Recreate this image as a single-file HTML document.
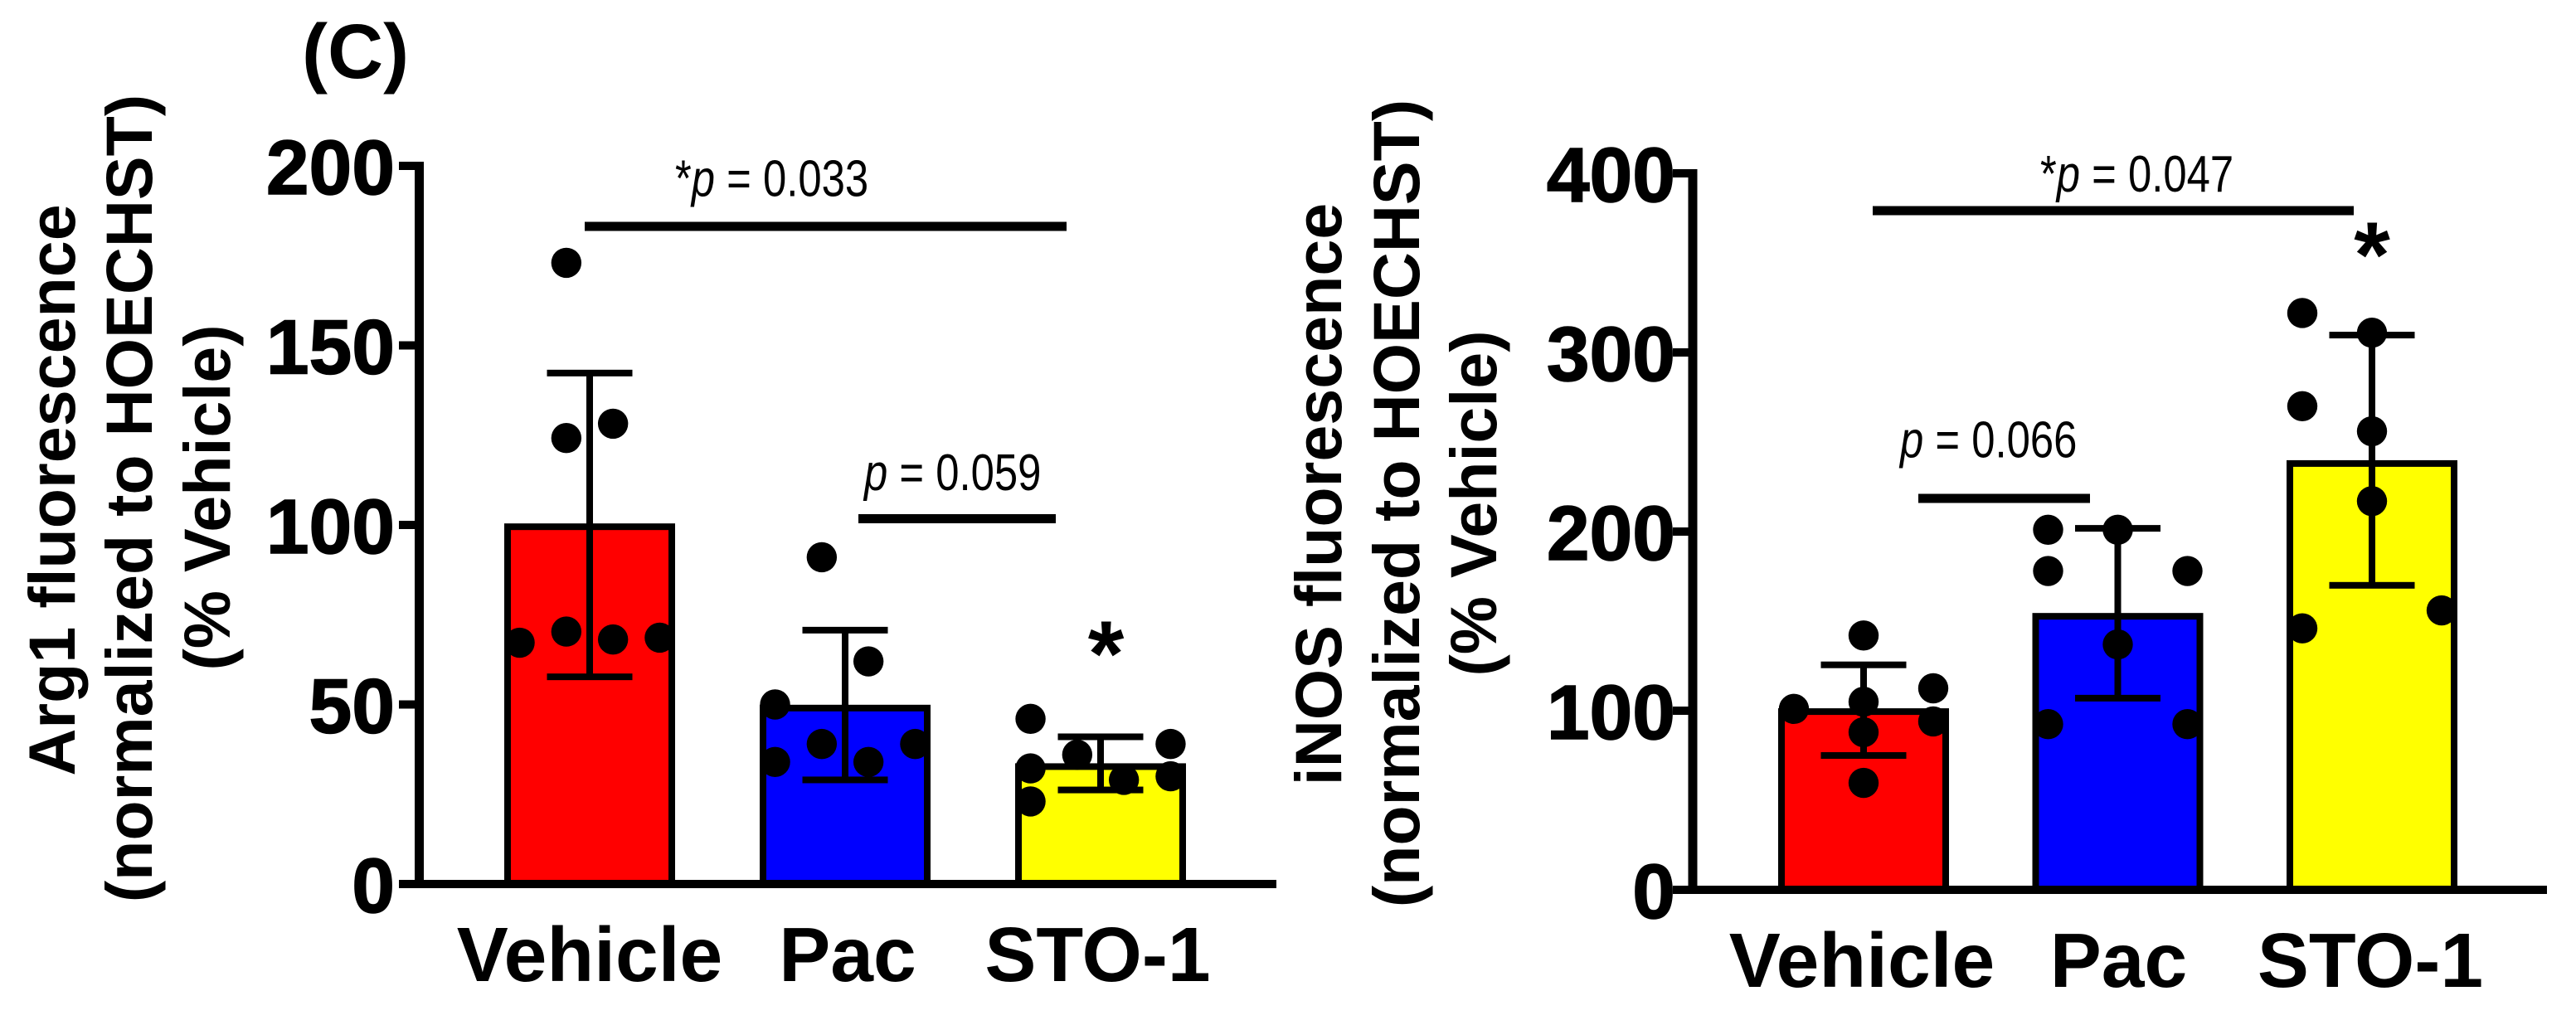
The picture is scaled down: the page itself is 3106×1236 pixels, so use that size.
<!DOCTYPE html>
<html lang="en">
<head>
<meta charset="utf-8">
<title>Arg1 and iNOS fluorescence</title>
<style>
html,body{margin:0;padding:0;background:#fff;}
svg{display:block;}
text{font-family:"Liberation Sans",Arial,sans-serif;fill:#000;}
.b{font-weight:700;}
</style>
</head>
<body>
<svg id="figure" xmlns="http://www.w3.org/2000/svg" width="3106" height="1236" viewBox="0 0 3106 1236">
  <rect x="0" y="0" width="3106" height="1236" fill="#fff"/>
  <text class="b" x="364" y="94" font-size="93">(C)</text>

  <g class="b" font-size="79" text-anchor="middle">
    <text transform="translate(90,591) rotate(-90)">Arg1 fluorescence</text>
    <text transform="translate(183,601) rotate(-90)">(normalized to HOECHST)</text>
    <text transform="translate(277,600) rotate(-90)">(% Vehicle)</text>
  </g>
  <g class="b" font-size="79" text-anchor="middle">
    <text transform="translate(1617,596) rotate(-90)">iNOS fluorescence</text>
    <text transform="translate(1711,607) rotate(-90)">(normalized to HOECHST)</text>
    <text transform="translate(1804,607) rotate(-90)">(% Vehicle)</text>
  </g>

  <g id="arg1-plot"></g>
  <g id="inos-plot"></g>

  <g>
    <rect x="705" y="267.5" width="581" height="11" fill="#000"/>
    <text transform="translate(814,236.5) scale(.82,1)" font-size="62">*<tspan font-style="italic">p</tspan> = 0.033</text>
    <rect x="1035" y="620" width="238" height="11" fill="#000"/>
    <text transform="translate(1042,591) scale(.82,1)" font-size="62"><tspan font-style="italic">p</tspan> = 0.059</text>
    <text class="b" x="1333.5" y="827" font-size="112" text-anchor="middle">*</text>
  </g>
  <g>
    <rect x="2258" y="248.5" width="580" height="11" fill="#000"/>
    <text transform="translate(2460,231) scale(.82,1)" font-size="62">*<tspan font-style="italic">p</tspan> = 0.047</text>
    <rect x="2313" y="595.5" width="207" height="11" fill="#000"/>
    <text transform="translate(2291,551.5) scale(.82,1)" font-size="62"><tspan font-style="italic">p</tspan> = 0.066</text>
    <text class="b" x="2860" y="346" font-size="112" text-anchor="middle">*</text>
  </g>
</svg>
<script>
var categories = ['Vehicle', 'Pac', 'STO-1'];

var arg1Ticks = [0, 50, 100, 150, 200];
var arg1Means = [99.5, 49, 32.7];
var arg1ErrUpper = [142.3, 70.7, 41];
var arg1ErrLower = [57.7, 29, 26.2];
/* each group: swarm columns, each holding point values */
var arg1PointsVehicle = [[67.2], [70.3, 124.2, 173], [68.1, 128.2], [68.6]];
var arg1PointsPac = [[50, 34], [39, 91], [34, 62], [39]];
var arg1PointsSto = [[46, 32.2, 23], [36], [29], [39, 30]];

var inosTicks = [0, 100, 200, 300, 400];
var inosMeans = [99.5, 152.7, 238];
var inosErrUpper = [125.6, 201.8, 309.7];
var inosErrLower = [75, 107, 170];
var inosPointsVehicle = [[101], [142, 105, 88, 59.7], [112.5, 94]];
var inosPointsPac = [[201, 178, 92.5], [201, 137], [178, 92.5]];
var inosPointsSto = [[322, 270, 146], [311, 256, 217], [156]];

var SVGNS = 'http://www.w3.org/2000/svg';

function make(tag, attrs, parent) {
  var node = document.createElementNS(SVGNS, tag);
  for (var key in attrs) { node.setAttribute(key, attrs[key]); }
  parent.appendChild(node);
  return node;
}

function drawChart(cfg) {
  var root = document.getElementById(cfg.id);
  var y = function (v) { return cfg.y0 - v * cfg.pxPerUnit; };
  var x = function (i) { return cfg.x0 + i * cfg.step; };

  /* bars */
  cfg.means.forEach(function (m, i) {
    var bar = make('rect', {
      x: x(i) - 99, y: y(m), width: 198, height: y(0) - y(m),
      fill: cfg.colors[i], stroke: '#000', 'stroke-width': 8
    }, root);
    
    
  });

  /* axes */
  var yAxis = make('rect', {
    x: cfg.axisX - 5.5, y: y(cfg.ticks[cfg.ticks.length - 1]) - 5,
    width: 11, height: y(0) - y(cfg.ticks[cfg.ticks.length - 1]) + 10, fill: '#000'
  }, root);
  
  

  var xAxis = make('rect', {
    x: cfg.tickStart, y: y(0) - 5, width: cfg.axisEnd - cfg.tickStart, height: 10, fill: '#000'
  }, root);
  
  

  /* y ticks and labels */
  cfg.ticks.forEach(function (t) {
    var tick = make('rect', {
      x: cfg.tickStart, y: y(t) - 5, width: cfg.axisX - cfg.tickStart, height: 10, fill: '#000'
    }, root);
    
    

    var label = make('text', {
      x: cfg.labelRight, y: y(t) + 34, 'font-size': 93,
      'font-weight': 700, 'text-anchor': 'end',
      stroke: '#000', 'stroke-width': 1.5
    }, root);
    
    
    label.textContent = String(t);
  });

  /* x category labels */
  categories.forEach(function (c, i) {
    var label = make('text', {
      x: x(i) + cfg.labelShift[i], y: y(0) + 117, 'font-size': 93,
      'font-weight': 700, 'text-anchor': 'middle'
    }, root);
    
    
    label.textContent = c;
  });

  /* error bars */
  cfg.means.forEach(function (m, i) {
    var stem = make('rect', {
      x: x(i) - 4, y: y(cfg.upper[i]), width: 8, height: y(cfg.lower[i]) - y(cfg.upper[i]), fill: '#000'
    }, root);
    
    

    var capTop = make('rect', {
      x: x(i) - 51.5, y: y(cfg.upper[i]) - 4, width: 103, height: 8, fill: '#000'
    }, root);
    
    

    var capBottom = make('rect', {
      x: x(i) - 51.5, y: y(cfg.lower[i]) - 4, width: 103, height: 8, fill: '#000'
    }, root);
    
    
  });

  /* points */
  cfg.points.forEach(function (columns, i) {
    columns.forEach(function (values, c) {
      values.forEach(function (v) {
        var dot = make('circle', {
          cx: x(i) + (c - (columns.length - 1) / 2) * cfg.swarmStep,
          cy: y(v), r: 18.2, fill: '#000'
        }, root);
        
        
      });
    });
  });
}

drawChart({
  id: 'arg1-plot',
  ticks: arg1Ticks, means: arg1Means, upper: arg1ErrUpper, lower: arg1ErrLower,
  points: [arg1PointsVehicle, arg1PointsPac, arg1PointsSto],
  colors: ['#ff0000', '#0000ff', '#ffff00'],
  y0: 1066, pxPerUnit: 4.33, x0: 711, step: 308, swarmStep: 56.3,
  axisX: 505.5, tickStart: 481, axisEnd: 1539, labelRight: 476,
  labelShift: [0, 3, -3.5]
});

drawChart({
  id: 'inos-plot',
  ticks: inosTicks, means: inosMeans, upper: inosErrUpper, lower: inosErrLower,
  points: [inosPointsVehicle, inosPointsPac, inosPointsSto],
  colors: ['#ff0000', '#0000ff', '#ffff00'],
  y0: 1073, pxPerUnit: 2.16, x0: 2247, step: 306.5, swarmStep: 84,
  axisX: 2041, tickStart: 2017, axisEnd: 3071, labelRight: 2020,
  labelShift: [-2, 1, -2]
});
</script>
</body>
</html>
